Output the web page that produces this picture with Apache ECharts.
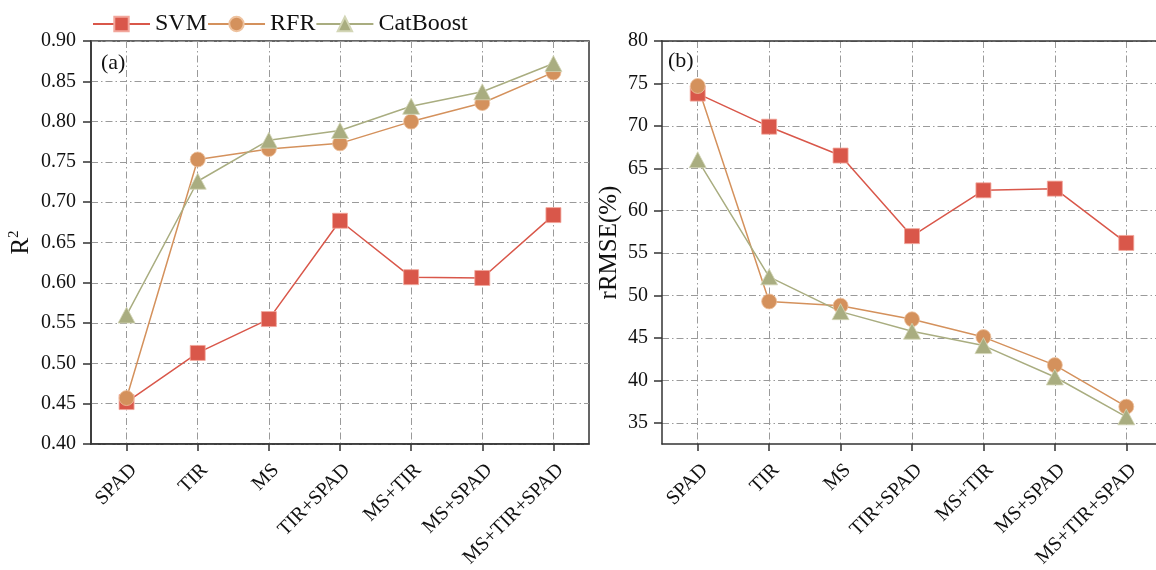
<!DOCTYPE html>
<html>
<head>
<meta charset="utf-8">
<script src="https://cdn.jsdelivr.net/npm/echarts@6/dist/echarts.min.js"></script>
<style>
  html, body { margin: 0; padding: 0; background: #fff; }
  #chart { width: 1156px; height: 570px; }
</style>
</head>
<body>
<div id="chart"></div>
<script>
// Feature combinations on the x axis
const categories = ['SPAD', 'TIR', 'MS', 'TIR+SPAD', 'MS+TIR', 'MS+SPAD', 'MS+TIR+SPAD'];

// (a) coefficient of determination
const r2SVM = [0.452, 0.513, 0.555, 0.677, 0.607, 0.606, 0.684];
const r2RFR = [0.457, 0.753, 0.766, 0.773, 0.800, 0.823, 0.861];
const r2Cat = [0.560, 0.726, 0.777, 0.789, 0.819, 0.837, 0.872];

// (b) relative RMSE in percent
const rmseSVM = [73.8, 69.9, 66.5, 57.0, 62.4, 62.6, 56.2];
const rmseRFR = [74.7, 49.3, 48.8, 47.2, 45.1, 41.8, 36.9];
const rmseCat = [66.0, 52.2, 48.1, 45.8, 44.1, 40.4, 35.7];

// Tick labels
const r2Ticks = [0.40, 0.45, 0.50, 0.55, 0.60, 0.65, 0.70, 0.75, 0.80, 0.85, 0.90];
const rmseTicks = [35, 40, 45, 50, 55, 60, 65, 70, 75, 80];
const catIndex = categories.map((_, i) => i);

const FONT = 'Liberation Serif';
const colors = { SVM: '#d9574a', RFR: '#d4915c', CatBoost: '#a9ad80' };
const edge = { SVM: '#f2a79c', RFR: '#eec29e', CatBoost: '#d3d6b6' };
const frame = { color: '#333', width: 1.5 };

const gridLine = { show: true, lineStyle: { color: '#9a9a9a', width: 1, type: [7, 3, 1.5, 3] } };

function xAxisFor(gridIndex) {
  return {
    type: 'value', gridIndex, min: -0.5, max: 6.5,
    axisLine: { show: true, onZero: false, lineStyle: frame },
    axisTick: { show: true, inside: false, customValues: catIndex, length: 7, lineStyle: frame },
    axisLabel: {
      customValues: catIndex, rotate: 45, margin: 16,
      align: 'right', verticalAlign: 'top',
      fontFamily: FONT, fontSize: 20, color: '#111',
      formatter: v => categories[Math.round(v)]
    },
    splitLine: gridLine
  };
}

// top edge of panel (b); its right side runs past the page
const topFrameB = {
  type: 'value', gridIndex: 1, position: 'top', min: -0.5, max: 6.5,
  axisLine: { show: true, onZero: false, lineStyle: frame },
  axisTick: { show: false }, axisLabel: { show: false }, splitLine: { show: false }
};

function yAxisFor(gridIndex, min, max, ticks, digits, name, nameGap, margin, nameStyle) {
  return {
    type: 'value', gridIndex, min, max,
    name, nameLocation: 'middle', nameGap,
    nameTextStyle: nameStyle,
    axisLine: { show: true, onZero: false, lineStyle: frame },
    axisTick: { show: true, inside: false, customValues: ticks, length: 8, lineStyle: frame },
    axisLabel: {
      customValues: ticks, margin,
      fontFamily: FONT, fontSize: 20, color: '#111',
      formatter: v => Number(v).toFixed(digits)
    },
    splitLine: gridLine
  };
}

const r2NameStyle = {
  fontFamily: FONT, fontSize: 25, color: '#111',
  rich: {
    r: { fontFamily: FONT, fontSize: 25, color: '#111', lineHeight: 28 },
    s: { fontFamily: FONT, fontSize: 15, color: '#111', verticalAlign: 'top', lineHeight: 28 }
  }
};
const rmseNameStyle = { fontFamily: FONT, fontSize: 25, color: '#111' };

function seriesFor(name, values, axisIndex, symbol, size) {
  return {
    name, type: 'line',
    xAxisIndex: axisIndex, yAxisIndex: axisIndex,
    data: values.map((v, i) => [i, v]),
    symbol, symbolSize: size,
    lineStyle: { color: colors[name], width: 1.5 },
    itemStyle: { color: colors[name], borderColor: edge[name], borderWidth: 0.8 },
    z: 3
  };
}

const chart = echarts.init(document.getElementById('chart'), null, { renderer: 'canvas' });
chart.setOption({
  animation: false,
  backgroundColor: '#fff',
  legend: {
    left: 87, top: 7,
    itemWidth: 57, itemHeight: 18, itemGap: 0,
    textStyle: { fontFamily: FONT, fontSize: 24, color: '#111' },
    data: ['SVM', 'RFR', 'CatBoost']
  },
  grid: [
    { left: 91, top: 41, width: 498, height: 403, show: true, borderColor: '#333', borderWidth: 1.5, outerBoundsMode: 'none' },
    { left: 662, top: 41, width: 500, height: 403, show: false, outerBoundsMode: 'none' }
  ],
  xAxis: [xAxisFor(0), xAxisFor(1), topFrameB],
  yAxis: [
    yAxisFor(0, 0.40, 0.90, r2Ticks, 2, '{r|R}{s|2}', 56, 15, r2NameStyle),
    yAxisFor(1, 32.5, 80, rmseTicks, 0, 'rRMSE(%)', 40, 14, rmseNameStyle)
  ],
  graphic: [
    { type: 'text', left: 101, top: 52, style: { text: '(a)', fontFamily: FONT, fontSize: 22, fill: '#111' } },
    { type: 'text', left: 668, top: 50, style: { text: '(b)', fontFamily: FONT, fontSize: 22, fill: '#111' } }
  ],
  series: [
    seriesFor('SVM', r2SVM, 0, 'rect', 15),
    seriesFor('RFR', r2RFR, 0, 'circle', 15),
    seriesFor('CatBoost', r2Cat, 0, 'triangle', [17, 16]),
    seriesFor('SVM', rmseSVM, 1, 'rect', 15),
    seriesFor('RFR', rmseRFR, 1, 'circle', 15),
    seriesFor('CatBoost', rmseCat, 1, 'triangle', [17, 16])
  ]
});
</script>
</body>
</html>
